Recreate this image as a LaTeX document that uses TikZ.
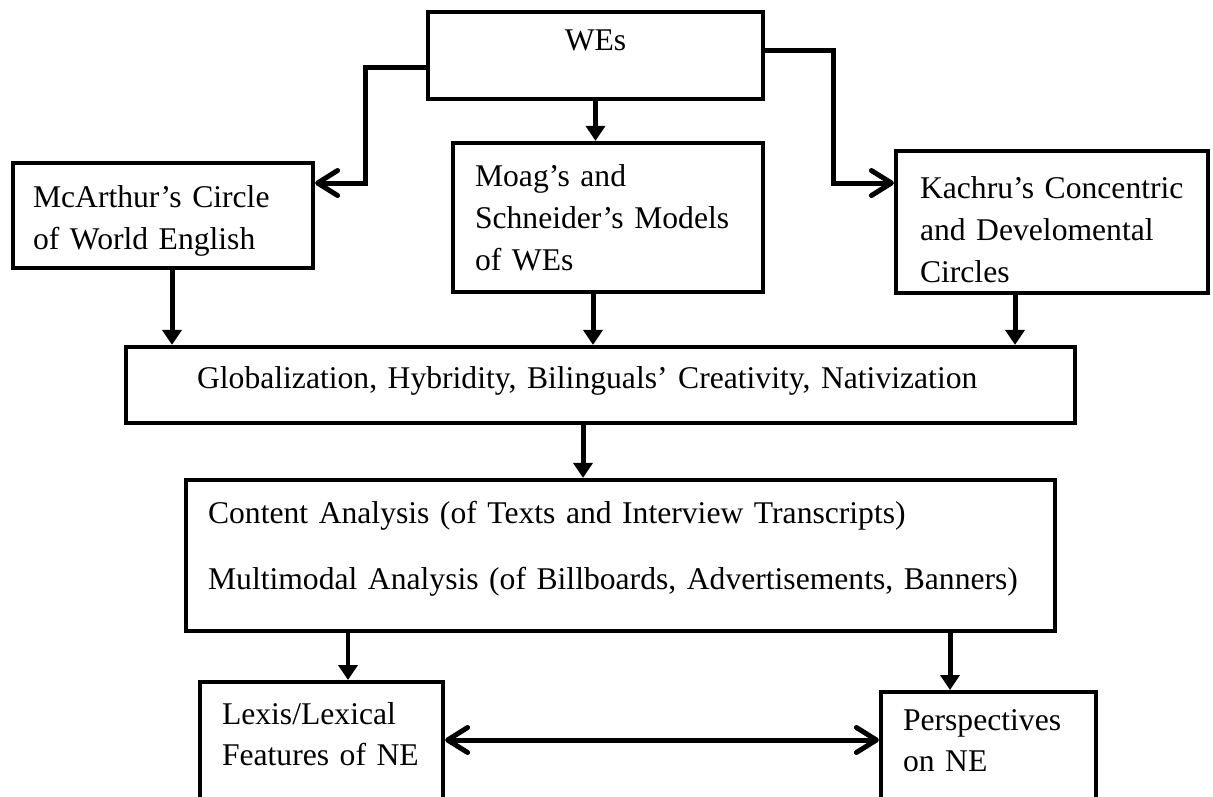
\documentclass[tikz,border=0pt]{standalone}
\usepackage{fontspec}
\setmainfont{Liberation Serif}
\usetikzlibrary{arrows.meta}
\tikzstyle{boxnode}=[draw=black, line width=0.085cm, rectangle, align=left, font=\fontsize{18}{23.8}\selectfont]
\tikzstyle{flow}=[line width=0.1cm, -{Triangle[length=0.3cm,width=0.38cm]}]
\tikzstyle{link}=[line width=0.1cm, -{Straight Barb[length=0.4cm,width=0.5cm,round]}]
\tikzstyle{twoway}=[line width=0.1cm, {Straight Barb[length=0.4cm,width=0.5cm,round]}-{Straight Barb[length=0.4cm,width=0.5cm,round]}]

\begin{document}
\begin{tikzpicture}[x=0.02cm, y=-0.02cm]
\useasboundingbox ( 0 , 0 ) rectangle ( 1213 , 796 );
\clip ( 0 , 0 ) rectangle ( 1213 , 796 );
\node[boxnode, minimum width=6.7cm, minimum height=1.74cm, text depth=0.6cm] (wes) at ( 595.5 , 55.5 ){WEs};
\node[boxnode, minimum width=6cm, minimum height=2.1cm, text width=5.2cm, inner xsep=0.4cm, text depth=0.74cm] (mcarthur) at ( 163 , 215.5 ){McArthur’s Circle\\of World English};
\node[boxnode, minimum width=6.2cm, minimum height=2.98cm, text width=5.32cm, inner xsep=0.44cm] (moag) at ( 608 , 217.5 ){Moag’s and\\Schneider’s Models\\of WEs};
\node[boxnode, minimum width=6.24cm, minimum height=2.84cm, text width=5.28cm, inner xsep=0.48cm, text depth=1.36cm] (kachru) at ( 1052 , 222 ){Kachru’s Concentric\\and Develomental\\Circles};
\node[boxnode, minimum width=18.98cm, minimum height=1.52cm, text width=16.14cm, inner xsep=1.42cm, text depth=0.28cm] (glob) at ( 600.5 , 385 ){Globalization, Hybridity, Bilinguals’ Creativity, Nativization};
\node[boxnode, minimum width=17.38cm, minimum height=3.02cm, text width=16.5cm, inner xsep=0.44cm, text depth=1.74cm] (content) at ( 620.5 , 555.5 ){Content Analysis (of Texts and Interview Transcripts)\\[0.5cm]Multimodal Analysis (of Billboards, Advertisements, Banners)};
\node[boxnode, anchor=north, text width=3.98cm, inner xsep=0.44cm, inner ysep=0.4cm, text depth=2cm] (lexis) at ( 321.5 , 680 ){Lexis/Lexical\\Features of NE};
\node[boxnode, anchor=north, text width=3.42cm, inner xsep=0.44cm, inner ysep=0.34cm, text depth=2cm] (persp) at ( 988.5 , 690 ){Perspectives\\on NE};
\draw[link] ([yshift=-0.23cm]wes.west) -- ++( -60 , 0 ) |- ([yshift=0.65cm]mcarthur.east);
\draw[link] ([yshift=0.11cm]wes.east) -- ++( 68 , 0 ) |- ([yshift=0.78cm]kachru.west);
\draw[flow] (wes.south) -- (wes.south |- moag.north);
\draw[flow] ([xshift=0.18cm]mcarthur.south) -- ([xshift=0.18cm]mcarthur.south |- glob.north);
\draw[flow] ([xshift=-0.3cm]moag.south) -- ([xshift=-0.3cm]moag.south |- glob.north);
\draw[flow] ([xshift=-0.74cm]kachru.south) -- ([xshift=-0.74cm]kachru.south |- glob.north);
\draw[flow] ([xshift=-0.35cm]glob.south) -- ([xshift=-0.35cm]glob.south |- content.north);
\draw[flow] ([xshift=0.53cm]lexis.north |- content.south) -- ([xshift=0.53cm]lexis.north);
\draw[flow] ([xshift=-0.77cm]persp.north |- content.south) -- ([xshift=-0.77cm]persp.north);
\draw[twoway] ([yshift=-1.2cm]lexis.north east) -- ([yshift=-1.2cm]lexis.north east -| persp.west);
\end{tikzpicture}
\end{document}
